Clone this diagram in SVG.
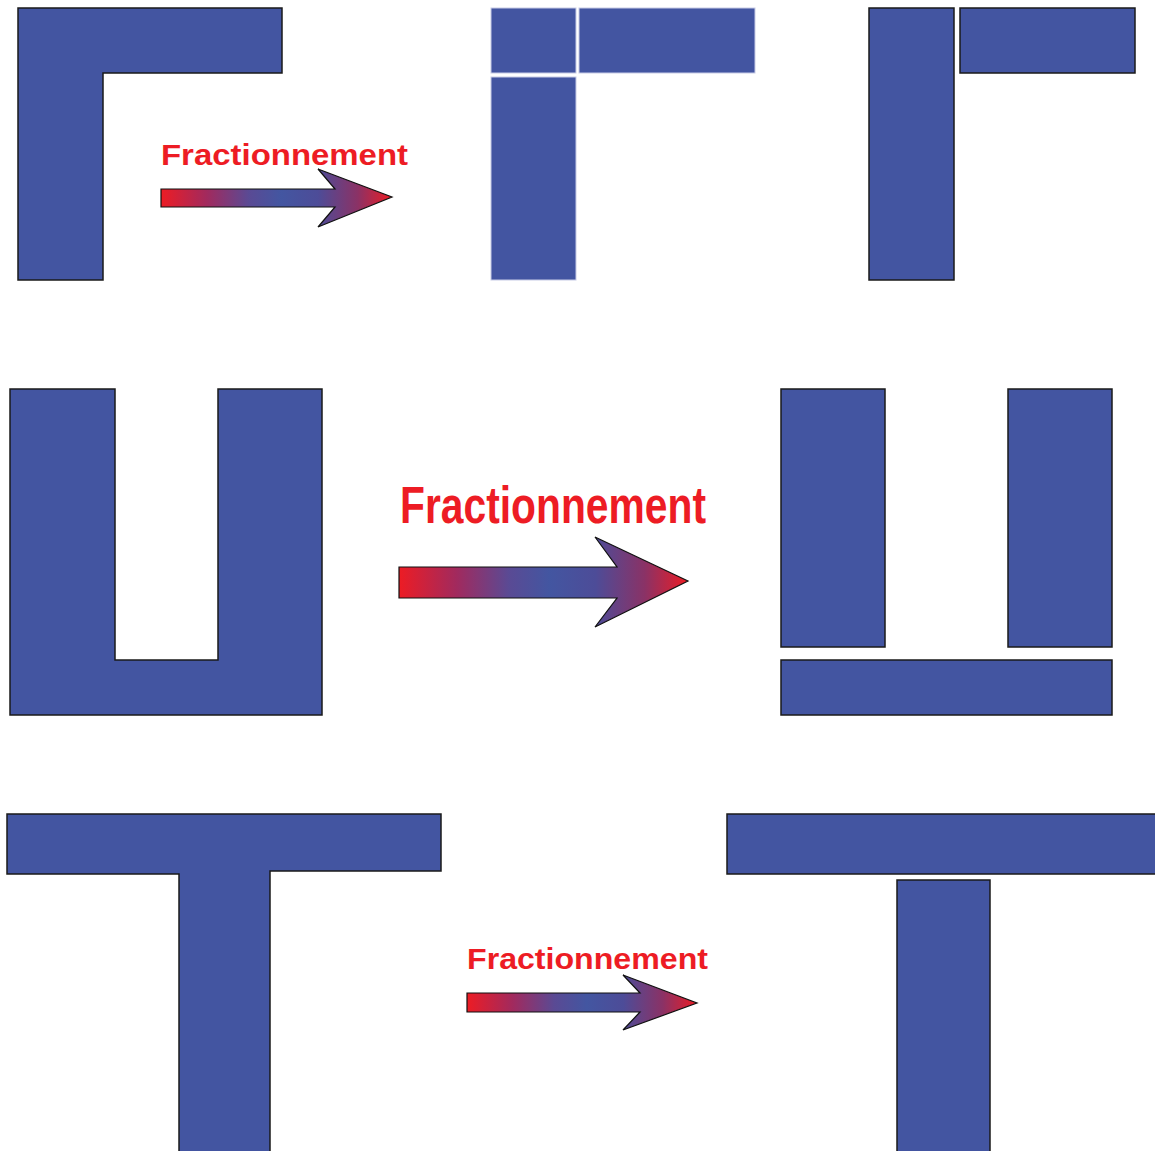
<svg xmlns="http://www.w3.org/2000/svg" width="1155" height="1151" viewBox="0 0 1155 1151">
<defs>
<linearGradient id="g" x1="0" y1="0" x2="1" y2="0">
<stop offset="0" stop-color="#ed1c24"/>
<stop offset="0.2" stop-color="#a12a5e"/>
<stop offset="0.38" stop-color="#5a4a94"/>
<stop offset="0.52" stop-color="#4356a1"/>
<stop offset="0.68" stop-color="#4d4c98"/>
<stop offset="0.85" stop-color="#8a3266"/>
<stop offset="1" stop-color="#ed1c24"/>
</linearGradient>
<style>
.s{fill:#4355a1;stroke:#1a1a1a;stroke-width:1.5}
.p{fill:#4355a1;stroke:#c8cce6;stroke-width:1}
.a{fill:url(#g);stroke:#111;stroke-width:1.2}
.t{fill:#ed1c24;font-family:"Liberation Sans",Arial,sans-serif;font-weight:bold}
</style>
</defs>
<rect width="1155" height="1151" fill="#fff"/>
<g id="L-shape"><path class="s" d="M18,8 H282 V73 H103 V280 H18 Z"/></g>
<g id="L-pieces-split">
<rect class="p" x="491" y="8" width="85" height="65"/>
<rect class="p" x="579" y="8" width="176" height="65"/>
<rect class="p" x="491" y="77" width="85" height="203"/>
</g>
<g id="L-pieces">
<rect class="s" x="869" y="8" width="85" height="272"/>
<rect class="s" x="960" y="8" width="175" height="65"/>
</g>
<g id="U-shape"><path class="s" d="M10,389 H115 V660 H218 V389 H322 V715 H10 Z"/></g>
<g id="U-pieces">
<rect class="s" x="781" y="389" width="104" height="258"/>
<rect class="s" x="1008" y="389" width="104" height="258"/>
<rect class="s" x="781" y="660" width="331" height="55"/>
</g>
<g id="T-shape"><path class="s" d="M7,814 H441 V871 H270 V1152 H179 V874 H7 Z"/></g>
<g id="T-pieces">
<rect class="s" x="727" y="814" width="430" height="60"/>
<rect class="s" x="897" y="880" width="93" height="272"/>
</g>
<g id="connectors">
<g id="arrow1">
<text class="t" x="161" y="165" font-size="30" textLength="247" lengthAdjust="spacingAndGlyphs">Fractionnement</text>
<path class="a" d="M161,189 H335 L318,169 L392,197 L318,227 L335,207 H161 Z"/>
</g>
<g id="arrow2">
<text class="t" x="400" y="523" font-size="52" textLength="306" lengthAdjust="spacingAndGlyphs">Fractionnement</text>
<path class="a" d="M399,567 H617 L595,537 L688,581 L595,627 L617,598 H399 Z"/>
</g>
<g id="arrow3">
<text class="t" x="467" y="969" font-size="30" textLength="241" lengthAdjust="spacingAndGlyphs">Fractionnement</text>
<path class="a" d="M467,993 H640 L623,975 L697,1003 L623,1030 L640,1012 H467 Z"/>
</g>
</g>
</svg>
